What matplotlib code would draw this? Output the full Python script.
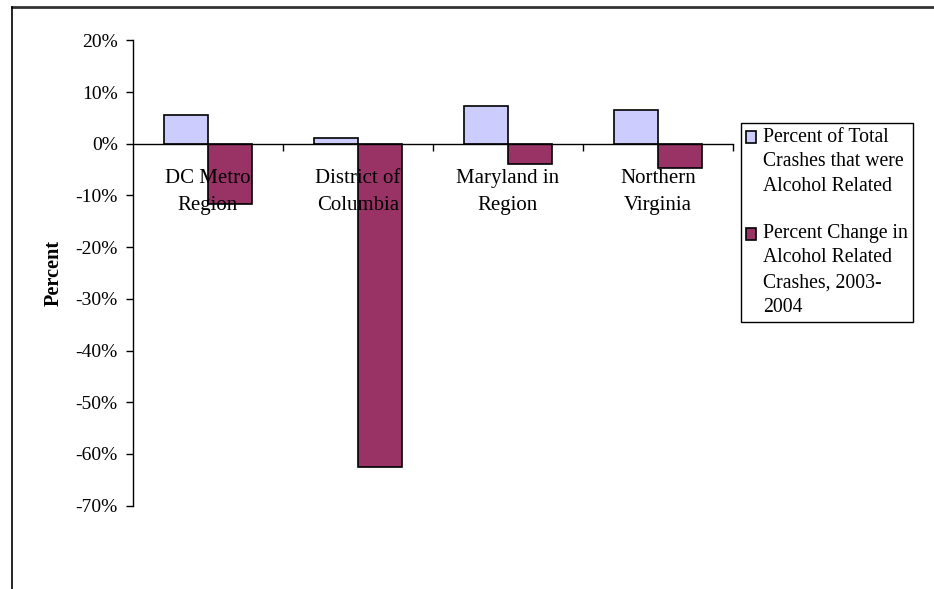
import matplotlib
matplotlib.use("Agg")
import matplotlib.pyplot as plt
from matplotlib.lines import Line2D
from matplotlib.patches import Patch, Rectangle
from matplotlib.legend_handler import HandlerPatch
from matplotlib.ticker import FuncFormatter, FixedLocator

categories = ["DC Metro\nRegion", "District of\nColumbia", "Maryland in\nRegion", "Northern\nVirginia"]
pct_total = [5.5, 1.2, 7.3, 6.6]
pct_change = [-11.6, -62.6, -4.0, -4.7]
series_names = ["Percent of Total\nCrashes that were\nAlcohol Related",
                "Percent Change in\nAlcohol Related\nCrashes, 2003-\n2004"]
yticks = [20, 10, 0, -10, -20, -30, -40, -50, -60, -70]

plt.rcParams['font.family'] = ['Liberation Serif', 'DejaVu Serif']

LEG_FS = 14.2
LEG_LS = 1.41


class TopHandler(HandlerPatch):
    """Place the legend swatch beside the first line of a multi-line label."""
    def __init__(self, nlines, **kw):
        super().__init__(**kw)
        self.nlines = nlines

    def create_artists(self, legend, orig_handle, xdescent, ydescent,
                       width, height, fontsize, trans):
        line_h = fontsize * LEG_LS * 0.88
        shift = (self.nlines - 1) / 2.0 * line_h
        p = Rectangle((-xdescent, -ydescent + shift), width, height)
        self.update_prop(p, orig_handle, legend)
        p.set_transform(trans)
        return [p]


fig = plt.figure(figsize=(9.34, 5.89), dpi=100)
ax = fig.add_axes([133/934, 1-505.7/589, (733-133)/934, (505.7-40.4)/589])
ax.set_axisbelow(False)

n = len(categories)
x = list(range(n))
w = 0.293
ax.bar([i - w/2 for i in x], pct_total, width=w, color='#CCCCFF', edgecolor='black', linewidth=1.2, zorder=2)
ax.bar([i + w/2 for i in x], pct_change, width=w, color='#993366', edgecolor='black', linewidth=1.2, zorder=2)

ax.set_xlim(-0.5, n - 0.5)
ax.set_ylim(-70, 20)
ax.yaxis.set_major_locator(FixedLocator(yticks))
ax.yaxis.set_major_formatter(FuncFormatter(lambda v, p: f"{int(round(v))}%"))

for s in ['top', 'right']:
    ax.spines[s].set_visible(False)
ax.spines['bottom'].set_position(('data', 0))
ax.spines['bottom'].set_linewidth(1.0)
ax.spines['left'].set_linewidth(1.0)

ax.set_xticks([i + 0.5 for i in x])
ax.set_xticklabels([])
ax.set_xticks(x, minor=True)
ax.set_xticklabels(categories, minor=True, fontsize=15, linespacing=1.56)
ax.tick_params(axis='x', which='major', direction='out', length=5, width=1)
ax.tick_params(axis='x', which='minor', length=0, pad=18.5)
ax.tick_params(axis='y', direction='out', length=5, width=1, labelsize=14, pad=6)

ax.set_ylabel("Percent", fontsize=14.6, fontweight='bold', labelpad=8.5)

h1 = Patch(facecolor='#CCCCFF', edgecolor='black', linewidth=1.2)
h2 = Patch(facecolor='#993366', edgecolor='black', linewidth=1.2)
handles = [h1, h2]
hmap = {h1: TopHandler(series_names[0].count("\n") + 1),
        h2: TopHandler(series_names[1].count("\n") + 1)}
leg = fig.legend(handles, series_names, loc='upper left',
                 bbox_to_anchor=(740.7/934, 1-122.7/589), bbox_transform=fig.transFigure,
                 borderaxespad=0, fancybox=False, shadow=False, framealpha=1,
                 fontsize=LEG_FS, handlelength=0.55, handleheight=0.55, handletextpad=0.35,
                 labelspacing=1.4, borderpad=0.25, handler_map=hmap)
for t in leg.get_texts():
    t.set_linespacing(LEG_LS)
leg.get_frame().set_edgecolor('black')
leg.get_frame().set_linewidth(1.0)

fig.add_artist(Line2D([12/934, 1], [1-6.5/589, 1-6.5/589], transform=fig.transFigure, color='#333333', linewidth=2))
fig.add_artist(Line2D([12/934, 12/934], [1-6.5/589, 0], transform=fig.transFigure, color='black', linewidth=1.2))

fig.savefig("out.png", dpi=100)
